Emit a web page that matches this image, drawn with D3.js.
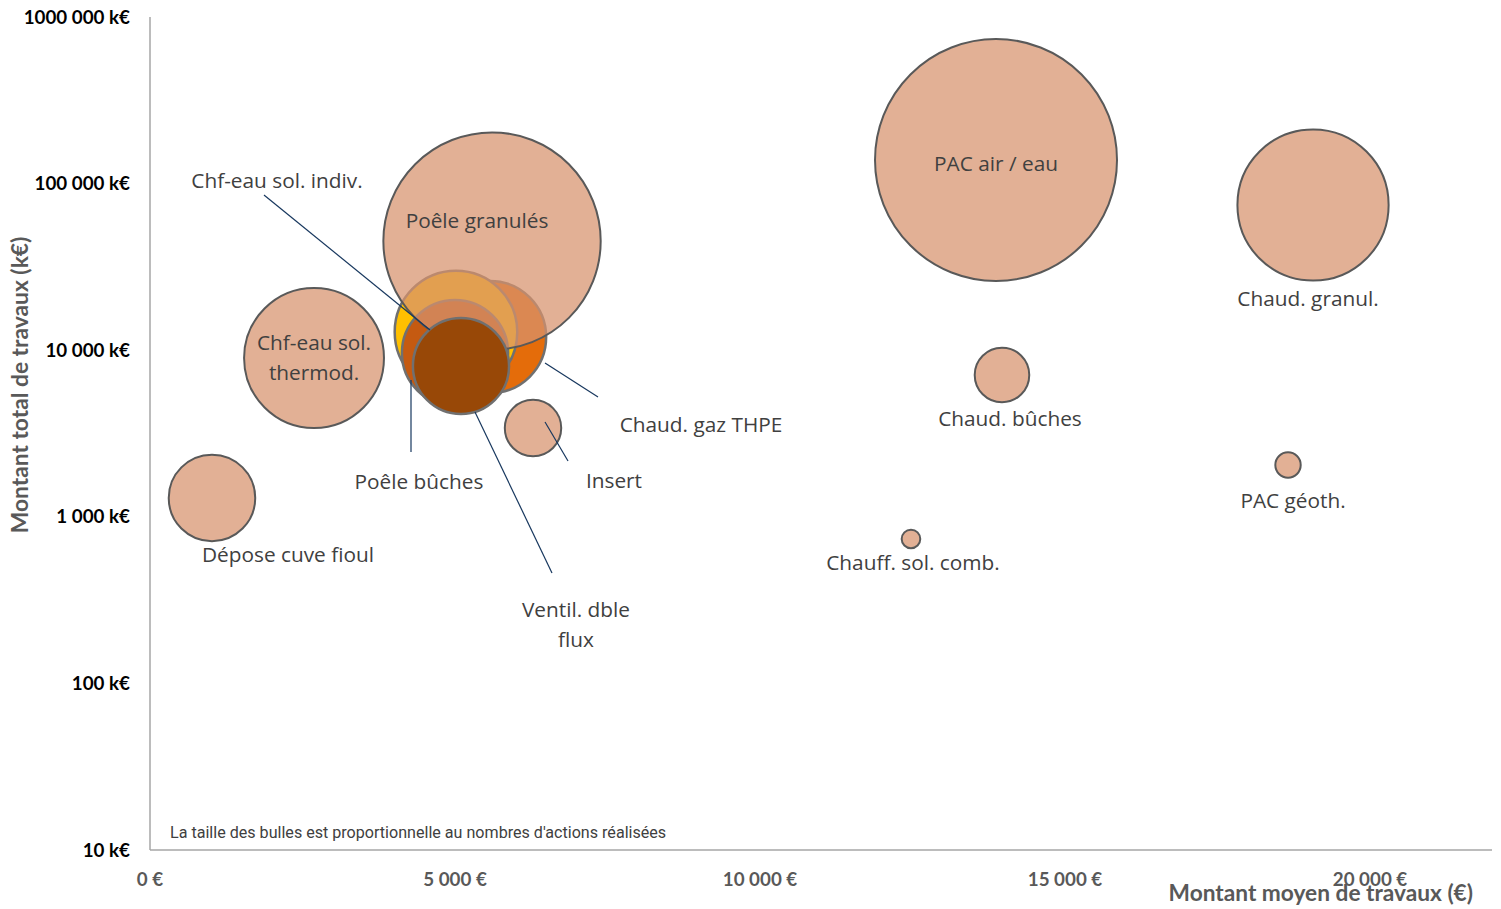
<!DOCTYPE html>
<html>
<head>
<meta charset="utf-8">
<script src="https://cdn.jsdelivr.net/npm/d3@7"></script>
<style>
  body { margin: 0; background: #fff; }
  svg { display: block; }
</style>
</head>
<body>
<div id="chart"></div>
<script>
// Data (in drawing order)
const categories = ["Dépose cuve fioul", "Chf-eau sol. thermod.", "Insert", "PAC air / eau",
    "Chaud. granul.", "Chaud. bûches", "PAC géoth.", "Chauff. sol. comb.",
    "Chaud. gaz THPE", "Chf-eau sol. indiv.", "Poêle bûches", "Poêle granulés", "Ventil. dble flux"];
// montant moyen (€)
const avgAmount = [1016, 2689, 6279, 13869, 19066, 13967, 18656, 12475, 5574, 5016, 5000, 5607, 5098];
// montant total (k€)
const totalAmount = [1297, 8980, 3410, 138600, 74400, 7100, 2047, 736, 11990, 12860, 9620, 45200, 8040];
// nombre d'actions (taille des bulles)
const actionCount = [1277, 3340, 543, 9994, 3902, 508, 110, 59, 2151, 2564, 1924, 8061, 1577];

const xTicks = [0, 5000, 10000, 15000, 20000];
const yTicks = [10, 100, 1000, 10000, 100000, 1000000];

// Styles
const peach = "rgb(215,147,109)";
const fillColors = {
    "Chaud. gaz THPE": "#E46C0A",
    "Chf-eau sol. indiv.": "#FFC000",
    "Poêle bûches": "#C55A11",
    "Ventil. dble flux": "#984807"
};

// Label layout: offsets in px from bubble center, optional leader line
const labelLayout = {
    "Dépose cuve fioul": {lines: ["Dépose cuve fioul"], dx: 76, dy: 57},
    "Chf-eau sol. thermod.": {lines: ["Chf-eau sol.", "thermod."], dx: 0, dy: -15},
    "Insert": {lines: ["Insert"], dx: 81, dy: 53, leader: [12, -6, 35, 33]},
    "PAC air / eau": {lines: ["PAC air / eau"], dx: 0, dy: 4},
    "Chaud. granul.": {lines: ["Chaud. granul."], dx: -5, dy: 94},
    "Chaud. bûches": {lines: ["Chaud. bûches"], dx: 8, dy: 44},
    "PAC géoth.": {lines: ["PAC géoth."], dx: 5, dy: 36},
    "Chauff. sol. comb.": {lines: ["Chauff. sol. comb."], dx: 2, dy: 24},
    "Chaud. gaz THPE": {lines: ["Chaud. gaz THPE"], dx: 211, dy: 88, leader: [55, 26, 108, 60]},
    "Chf-eau sol. indiv.": {lines: ["Chf-eau sol. indiv."], dx: -179, dy: -151, leader: [-192, -137, -26, -2]},
    "Poêle bûches": {lines: ["Poêle bûches"], dx: -36, dy: 129, leader: [-44, 27, -44, 99]},
    "Poêle granulés": {lines: ["Poêle granulés"], dx: -15, dy: -20},
    "Ventil. dble flux": {lines: ["Ventil. dble", "flux"], dx: 115, dy: 244, leader: [14, 46, 91, 207]}
};

const width = 1501, height = 909;
const marginLeft = 150, marginRight = 10, marginTop = 17, marginBottom = 58;

const svg = d3.select("#chart").append("svg")
    .attr("width", width).attr("height", height);

const x = d3.scaleLinear().domain([0, 22000]).range([marginLeft, marginLeft + 22000 * 0.061]);
const y = d3.scaleLog().domain([10, 1000000]).range([height - marginBottom - 1, marginTop]);
const r = d3.scaleSqrt().domain([0, 9994]).range([0, 121]);

const dataset = categories.map((name, i) => ({
    name: name,
    avg: avgAmount[i],
    total: totalAmount[i],
    count: actionCount[i]
}));

// Axes lines
svg.append("line")
    .attr("x1", x(0)).attr("x2", x(0))
    .attr("y1", y(1000000)).attr("y2", y(10))
    .attr("stroke", "#A6A6A6").attr("stroke-width", 1.5);
svg.append("line")
    .attr("x1", x(0)).attr("x2", x(22000))
    .attr("y1", y(10)).attr("y2", y(10))
    .attr("stroke", "#A6A6A6").attr("stroke-width", 1.5);

// Tick labels
const fmt = d3.formatLocale({decimal: ",", thousands: "\u00a0", grouping: [3], currency: ["", ""]}).format(",");
svg.append("g").selectAll("text")
    .data(yTicks).enter().append("text")
    .attr("x", 130)
    .attr("y", d => y(d))
    .attr("dy", "0.35em")
    .attr("text-anchor", "end")
    .style("font-family", "Lato, sans-serif")
    .style("font-weight", "bold")
    .style("font-size", "18.8px")
    .attr("fill", "#000")
    .text(d => (d === 1000000 ? "1000\u00a0000" : fmt(d)) + " k€");

svg.append("g").selectAll("text")
    .data(xTicks).enter().append("text")
    .attr("x", d => x(d))
    .attr("y", 879)
    .attr("dy", "0.35em")
    .attr("text-anchor", "middle")
    .style("font-family", "Lato, sans-serif")
    .style("font-weight", "bold")
    .style("font-size", "18.8px")
    .attr("fill", "#595959")
    .text(d => fmt(d) + " €");

// Axis titles
svg.append("text")
    .attr("transform", "translate(20,385) rotate(-90)")
    .attr("dy", "0.35em")
    .attr("text-anchor", "middle")
    .style("font-family", "Lato, sans-serif")
    .style("font-weight", "bold")
    .style("font-size", "22.8px")
    .attr("fill", "#595959")
    .text("Montant total de travaux (k€)");
svg.append("text")
    .attr("x", 1473).attr("y", 893)
    .attr("dy", "0.35em")
    .attr("text-anchor", "end")
    .style("font-family", "Lato, sans-serif")
    .style("font-weight", "bold")
    .style("font-size", "22.7px")
    .attr("fill", "#595959")
    .text("Montant moyen de travaux (€)");

// Note
svg.append("text")
    .attr("x", 170).attr("y", 832)
    .attr("dy", "0.35em")
    .style("font-family", "'Liberation Sans Narrow', 'Roboto', sans-serif")
    .style("font-size", "16.1px")
    .attr("fill", "#404040")
    .text("La taille des bulles est proportionnelle au nombres d'actions réalisées");

// Bubbles
svg.append("g").selectAll("circle")
    .data(dataset).enter().append("circle")
    .attr("cx", d => x(d.avg))
    .attr("cy", d => y(d.total))
    .attr("r", d => r(d.count))
    .attr("fill", d => fillColors[d.name] || peach)
    .attr("fill-opacity", d => fillColors[d.name] ? 1 : 0.73)
    .attr("stroke", d => fillColors[d.name] ? "#707070" : "#595959")
    .attr("stroke-width", d => fillColors[d.name] ? 2.5 : 2);

// Leader lines
svg.append("g").selectAll("line")
    .data(dataset.filter(d => labelLayout[d.name].leader)).enter().append("line")
    .attr("x1", d => x(d.avg) + labelLayout[d.name].leader[0])
    .attr("y1", d => y(d.total) + labelLayout[d.name].leader[1])
    .attr("x2", d => x(d.avg) + labelLayout[d.name].leader[2])
    .attr("y2", d => y(d.total) + labelLayout[d.name].leader[3])
    .attr("stroke", "#17375E")
    .attr("stroke-width", 1.2);

// Labels
const labels = svg.append("g").selectAll("text")
    .data(dataset).enter().append("text")
    .attr("text-anchor", "middle")
    .style("font-family", "'Open Sans', sans-serif")
    .style("font-size", "20.8px")
    .attr("fill", "#404040");
labels.each(function (d) {
    const lay = labelLayout[d.name];
    const cx = x(d.avg) + lay.dx;
    const cy = y(d.total) + lay.dy;
    d3.select(this).selectAll("tspan")
        .data(lay.lines).enter().append("tspan")
        .attr("x", cx)
        .attr("y", (t, i) => cy + i * 29.5)
        .attr("dy", "0.35em")
        .text(t => t);
});
</script>
</body>
</html>
